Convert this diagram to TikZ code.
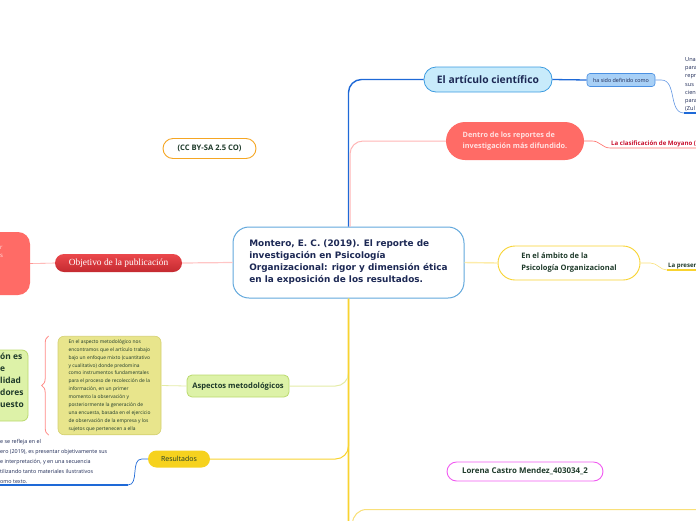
\documentclass[tikz,border=0pt]{standalone}
\usepackage{fontspec}
\setmainfont{Open Sans}
\newfontfamily\verdanafont{DejaVu Sans}
\newfontfamily\seriffont{Liberation Serif}
\usetikzlibrary{positioning, decorations.pathreplacing}
\definecolor{navy}{RGB}{28,40,84}
\definecolor{inkgreen}{RGB}{30,58,42}
\definecolor{centralblue}{RGB}{98,168,220}
\definecolor{connblue}{RGB}{30,105,215}
\definecolor{artfill}{RGB}{200,235,251}
\definecolor{artborder}{RGB}{60,155,224}
\definecolor{hasfill}{RGB}{168,208,246}
\definecolor{hasborder}{RGB}{74,144,226}
\definecolor{salmon}{RGB}{255,107,102}
\definecolor{palepink}{RGB}{255,182,182}
\definecolor{pinktext}{RGB}{255,225,225}
\definecolor{crimson}{RGB}{200,16,46}
\definecolor{objtop}{RGB}{235,72,76}
\definecolor{objbot}{RGB}{196,42,48}
\definecolor{khaki}{RGB}{232,229,140}
\definecolor{khakiborder}{RGB}{212,208,112}
\definecolor{greenfill}{RGB}{221,242,168}
\definecolor{greenborder}{RGB}{186,217,110}
\definecolor{greenline}{RGB}{228,235,166}
\definecolor{sunyellow}{RGB}{246,210,30}
\definecolor{mainyellow}{RGB}{248,211,48}
\definecolor{paleyellow}{RGB}{253,236,170}
\definecolor{lightyellow}{RGB}{249,224,122}
\definecolor{orchid}{RGB}{241,91,241}
\definecolor{ccorange}{RGB}{245,166,35}

\begin{document}
\begin{tikzpicture}[x=1pt, y=-1pt,
  conn/.style={rounded corners=13pt},
  pill/.style={draw, line width=0.9pt, fill=white, text=inkgreen, font=\bfseries\fontsize{7.6}{9}\selectfont}]
  \clip (0,0) rectangle (696,520);

  % central topic
  \node[draw=centralblue, line width=1pt, fill=white, rounded corners=16pt,
        minimum width=231pt, minimum height=71pt, align=left, text=navy,
        font=\verdanafont\bfseries\fontsize{8.9}{12}\selectfont] (central) at (348.5,262.5)
    {Montero, E. C. (2019). El reporte de\\investigación en Psicología\\Organizacional: rigor y dimensión ética\\en la exposición de los resultados.};

  % upper right branches
  \node[draw=artborder, line width=0.8pt, fill=artfill, rounded corners=12pt,
        minimum width=128pt, minimum height=25pt, text=navy,
        font=\bfseries\fontsize{10.3}{12}\selectfont] (article) at (488,79.5) {El artículo científico};
  \node[draw=hasborder, line width=0.6pt, fill=hasfill, rounded corners=3pt,
        minimum width=68pt, minimum height=13pt, inner sep=1pt, text=navy,
        font=\fontsize{5.4}{6}\selectfont] (hasido) at (621,80) {ha sido definido como};
  \node[anchor=south west, inner sep=1pt, align=left, text=navy,
        font=\fontsize{5.6}{8.3}\selectfont] (definicion) at (684,113)
    {Una\\para\\repr\\sus\\cien\\para\\(Zul};

  \node[fill=salmon, rounded corners=19pt, minimum width=138pt, minimum height=38pt,
        align=left, text=pinktext, font=\bfseries\fontsize{7.3}{11}\selectfont] (dentro) at (515,141)
    {Dentro de los reportes de\\investigación más difundido.};
  \node[anchor=south west, inner sep=1pt, text=crimson,
        font=\bfseries\fontsize{6.1}{6}\selectfont] (clasif) at (610,148) {La clasificación de Moyano (};

  \node[pill, draw=ccorange, rounded corners=10pt, minimum width=93pt, minimum height=20pt] (cc) at (209.5,148.5) {(CC BY-SA 2.5 CO)};

  % right branch
  \node[pill, draw=mainyellow, rounded corners=17pt, minimum width=142pt, minimum height=34pt,
        align=left, font=\bfseries\fontsize{7.5}{12}\selectfont] (ambito) at (569,263)
    {En el ámbito de la\\Psicología Organizacional};
  \node[anchor=south west, inner sep=1pt, text=inkgreen,
        font=\bfseries\fontsize{6.1}{6}\selectfont] (presen) at (667,270) {La presen};

  % left branch
  \node[top color=objtop, bottom color=objbot, rounded corners=9pt, minimum width=127pt,
        minimum height=18pt, text=white, font=\seriffont\fontsize{9.4}{10}\selectfont] (objetivo) at (118.5,263)
    {Objetivo de la publicación};
  \node[fill=salmon, rounded corners=12pt, minimum width=80pt, minimum height=63pt] (leftobj) at (-10,263.5) {};
  \node[anchor=north west, inner sep=0pt, align=left, text=pinktext,
        font=\fontsize{6}{8}\selectfont] (leftobjtext) at (0,246) {r\\s};

  % methodology branch
  \node[draw=greenborder, line width=0.8pt, fill=greenfill, rounded corners=5pt,
        minimum width=102pt, minimum height=22pt, text=inkgreen,
        font=\bfseries\fontsize{7.6}{9}\selectfont] (aspectos) at (238,386) {Aspectos metodológicos};
  \node[draw=khakiborder, line width=0.6pt, fill=khaki, rounded corners=6pt,
        minimum width=103pt, minimum height=95pt, align=left, text=inkgreen,
        font=\fontsize{4.9}{7.9}\selectfont] (metodo) at (109.5,385.5)
    {En el aspecto metodológico nos\\encontramos que el artículo trabajo\\bajo un enfoque mixto (cuantitativo\\y cualitativo) donde predomina\\como instrumentos fundamentales\\para el proceso de recolección de la\\información, en un primer\\momento la observación y\\posteriormente la generación de\\una encuesta, basada en el ejercicio\\de observación de la empresa y los\\sujetos que pertenecen a ella};
  \node[draw=greenborder, line width=0.8pt, fill=greenfill, minimum width=80pt, minimum height=71pt,
        rounded corners=6pt] (conclusion) at (-12,385.5) {};
  \node[anchor=north west, inner sep=0pt, align=left, text=inkgreen,
        font=\bfseries\fontsize{8.4}{12}\selectfont] (conclusiontext) at (0,353) {ón es\\e\\lidad\\dores\\uesto};
  \draw[decorate, decoration={brace, amplitude=7pt, mirror}, salmon!80, line width=0.8pt]
    ([xshift=-9pt]metodo.north west) -- ([xshift=-9pt]metodo.south west);

  % results branch
  \node[fill=sunyellow, rounded corners=8.5pt, minimum width=62pt, minimum height=17pt,
        text=inkgreen, font=\fontsize{7}{8}\selectfont] (resultados) at (179,459) {Resultados};
  \node[anchor=south west, inner sep=1pt, align=left, text=navy,
        font=\fontsize{5.4}{10}\selectfont] (restext) at (-1,485)
    {e se refleja en el\\ero (2019), es presentar objetivamente sus\\e interpretación, y en una secuencia\\tilizando tanto materiales ilustrativos\\omo texto.};
  \coordinate (resbend) at (128,485);

  \node[pill, draw=orchid, rounded corners=9.5pt, minimum width=156pt, minimum height=19pt,
        font=\bfseries\fontsize{7.9}{9}\selectfont] (lorena) at (525,471.5) {Lorena Castro Mendez\_403034\_2};

  \node[draw=lightyellow, line width=1pt, fill=white, rounded corners=14pt, minimum width=420pt,
        minimum height=60pt, anchor=north west, inner xsep=10pt, inner ysep=6pt, text=navy, align=left,
        font=\bfseries\fontsize{7}{9}\selectfont] (referencia) at (352,509)
    {Montero, E. C. (2019). El reporte de la investigación en Psicología Organizacional: rigor y dimensión ética\\en la exposición de los resultados.};

  % connectors
  \draw[conn, connblue, line width=1.4pt] (central.north) |- (article.west);
  \draw[connblue, line width=1.3pt] (article.east) -- (hasido.west);
  \draw[connblue!70, line width=0.6pt] (hasido.east) -- ++(6,0) to[out=0,in=180] (definicion.south west);
  \draw[connblue, line width=1.3pt] (definicion.south west) -- (definicion.south east);
  \draw[conn, palepink, line width=1pt] ([xshift=1.5pt]central.north) |- (dentro.west);
  \draw[salmon, line width=0.6pt] (dentro.east) -- ++(8,0) to[out=0,in=180] (clasif.south west) -- ([xshift=40pt]clasif.south east);
  \draw[palepink!80, line width=1.2pt] (central.west) -- (objetivo.east);
  \draw[salmon!70, line width=0.6pt] (objetivo.west) -- (leftobj.east);
  \draw[paleyellow, line width=1.4pt] (central.east) -- (ambito.west);
  \draw[lightyellow, line width=0.6pt] (ambito.east) -- ++(10,0) to[out=0,in=180] (presen.south west);
  \draw[mainyellow, line width=1.3pt] (presen.south west) -- ([xshift=30pt]presen.south east);
  \draw[conn, mainyellow, line width=1.8pt] (central.south) |- (referencia.west);
  \draw[conn, greenline, line width=1pt] (central.south) |- (aspectos.east);
  \draw[greenline, line width=0.8pt] (aspectos.west) -- (metodo.east);
  \draw[conn, mainyellow, line width=1pt] (central.south) |- (resultados.east);
  \draw[connblue, line width=0.7pt] (resultados.west) -- ++(-6,0) to[out=180,in=0] (resbend);
  \draw[connblue, line width=1.3pt] (resbend) -- (restext.south west);
\end{tikzpicture}
\end{document}
